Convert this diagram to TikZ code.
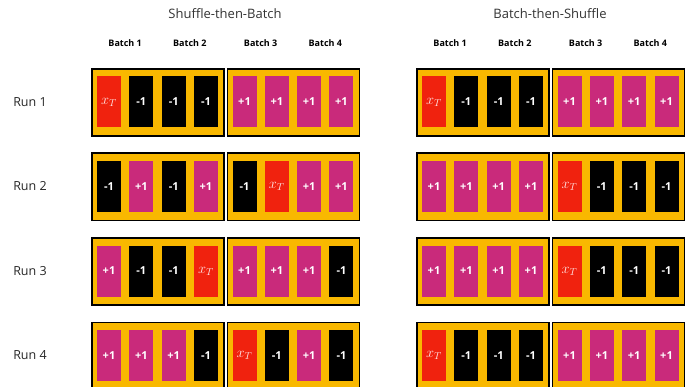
\documentclass[tikz,border=0pt]{standalone}
\usepackage{fontspec}
\setsansfont{Open Sans}
\definecolor{batchbg}{HTML}{F9B800}
\definecolor{targetred}{HTML}{F0220E}
\definecolor{posmag}{HTML}{C92A7B}
\newcommand{\lbln}{-1}
\newcommand{\lblp}{+1}
\newcommand{\lblt}{$x_T$}

\tikzset{
  batchbox/.style={fill=batchbg, draw=black, line width=1.8pt, minimum width=132pt, minimum height=67pt, inner sep=0pt, anchor=north west},
  cell/.style={minimum width=24pt, minimum height=51pt, inner sep=0pt, text=white, font=\sffamily\bfseries\fontsize{11}{11}\selectfont},
  celln/.style={cell, fill=black},
  cellp/.style={cell, fill=posmag},
  cellt/.style={cell, fill=targetred, text=white!90!red, font=\fontsize{14}{14}\selectfont},
  title/.style={font=\sffamily\fontsize{13}{13}\selectfont, text=black!80},
  batchlabel/.style={font=\sffamily\bfseries\fontsize{9}{9}\selectfont},
  runlabel/.style={font=\sffamily\fontsize{12.5}{12.5}\selectfont, text=black!85}
}

\begin{document}
\begin{tikzpicture}[x=1pt, y=-1pt]
  \useasboundingbox (0,0) rectangle (692,387);
  % titles
  \node[title] (tleft) at (225, 14) {Shuffle-then-Batch};
  \node[title] (tright) at (550, 14) {Batch-then-Shuffle};
  % batch labels
  \foreach \g/\gx in {L/91, R/416} {
    \foreach \b in {1,2,3,4} {
      \pgfmathsetmacro\bx{\gx + (\b>2)*135.5 + 18 + 16.17 + mod(\b-1,2)*64.67}
      \node[batchlabel] (\g batch\b) at (\bx, 43) {Batch \b};
    }
  }
  % run labels
  \foreach \r in {1,2,3,4} {
    \pgfmathsetmacro\ry{68 + (\r-1)*84.5 + 34}
    \node[runlabel] (run\r) at (30, \ry) {Run \r};
  }
  % boxes and cells
  \foreach \g/\gx/\rows in {
      L/91/{1/{t,n,n,n,p,p,p,p}, 2/{n,p,n,p,n,t,p,p}, 3/{p,n,n,t,p,p,p,n}, 4/{p,p,p,n,t,n,p,n}},
      R/416/{1/{t,n,n,n,p,p,p,p}, 2/{p,p,p,p,t,n,n,n}, 3/{p,p,p,p,t,n,n,n}, 4/{t,n,n,n,p,p,p,p}}} {
    \foreach \r/\lst in \rows {
      \pgfmathsetmacro\ry{68 + (\r-1)*84.5}
      \pgfmathsetmacro\bx{\gx + 135.5}
      \node[batchbox] (\g\r a) at (\gx, \ry) {};
      \node[batchbox] (\g\r b) at (\bx, \ry) {};
      \foreach \c [count=\i] in \lst {
        \pgfmathsetmacro\cx{\gx + (\i>4)*135.5 + 18 + mod(\i-1,4)*32.33}
        \pgfmathsetmacro\cy{\ry + 34}
        \node[cell\c] (\g\r c\i) at (\cx, \cy) {\csname lbl\c\endcsname};
      }
    }
  }
\end{tikzpicture}
\end{document}
